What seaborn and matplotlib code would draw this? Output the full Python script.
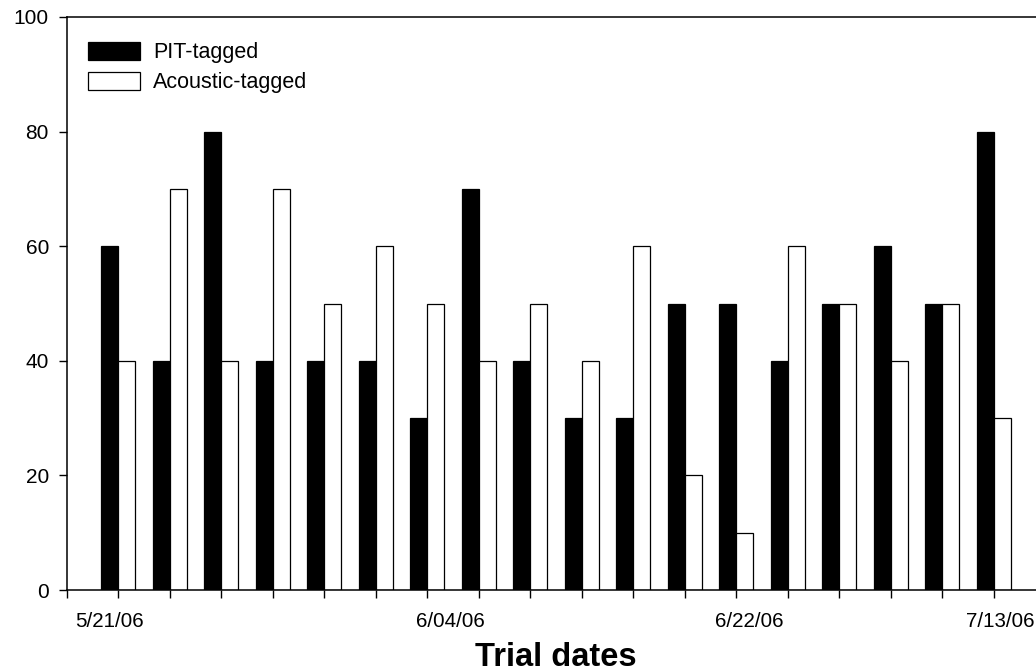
import matplotlib
matplotlib.use("Agg")
import matplotlib.pyplot as plt
from matplotlib.patches import Patch
import seaborn as sns
import pandas as pd

# Percent of fish detected per trial, by tag type
trials = [str(i) for i in range(1, 19)]
pit_tagged = [60, 40, 80, 40, 40, 40, 30, 70, 40, 30, 30, 50, 50, 40, 50, 60, 50, 80]
acoustic_tagged = [40, 70, 40, 70, 50, 60, 50, 40, 50, 40, 60, 20, 10, 60, 50, 40, 50, 30]
series_names = ["PIT-tagged", "Acoustic-tagged"]
date_labels = ["5/21/06", "6/04/06", "6/22/06", "7/13/06"]
date_label_pos = [-0.18, 6.44, 12.26, 17.14]
y_ticks = [0, 20, 40, 60, 80, 100]

df = pd.DataFrame({
    "trial": trials * 2,
    "percent": pit_tagged + acoustic_tagged,
    "tag": [series_names[0]] * len(trials) + [series_names[1]] * len(trials),
})

sns.set_theme(style="ticks")
plt.rcParams["font.family"] = ["Liberation Sans", "DejaVu Sans"]
plt.rcParams["text.color"] = "black"
plt.rcParams["axes.labelcolor"] = "black"
plt.rcParams["xtick.color"] = "black"
plt.rcParams["ytick.color"] = "black"

fig = plt.figure(figsize=(10.36, 6.71), dpi=100)
ax = fig.add_axes([67 / 1036, 81 / 671, (1045 - 67) / 1036, (590 - 17) / 671])

palette = {series_names[0]: "black", series_names[1]: "white"}
sns.barplot(data=df, x="trial", y="percent", hue="tag", hue_order=series_names,
            order=trials, palette=palette, width=0.66, gap=0, edgecolor="black",
            linewidth=0.9, saturation=1, legend=False, ax=ax)

ax.set_xlim(-1, 18)
ax.set_ylim(0, 100)
ax.set_yticks(y_ticks)
ax.set_yticklabels([str(v) for v in y_ticks], fontsize=15)

# major ticks at group boundaries, date labels on minor positions without marks
ax.set_xticks(range(-1, 18))
ax.set_xticklabels([""] * 19)
ax.set_xticks(date_label_pos, minor=True)
ax.set_xticklabels(date_labels, minor=True, fontsize=14.8)
ax.tick_params(axis="x", which="minor", length=0, pad=16)
ax.tick_params(axis="both", which="major", direction="out", length=6, width=1)
ax.tick_params(axis="y", pad=7)

ax.set_xlabel("Trial dates", fontsize=23.5, fontweight="bold", labelpad=7.5)
ax.set_ylabel("")

for side in ["left", "bottom", "top"]:
    ax.spines[side].set_visible(True)
    ax.spines[side].set_color("black")
    ax.spines[side].set_linewidth(1.1)
ax.spines["right"].set_visible(False)

handles = [Patch(facecolor="black", edgecolor="black", linewidth=0.9),
           Patch(facecolor="white", edgecolor="black", linewidth=0.9)]
ax.legend(handles, series_names, loc="upper left", bbox_to_anchor=(0.0215, 0.957),
          frameon=False, fontsize=15.5, handlelength=2.42, handleheight=0.9,
          labelspacing=0.42, handletextpad=0.6, borderaxespad=0, borderpad=0)

fig.savefig("out.png", dpi=100)
